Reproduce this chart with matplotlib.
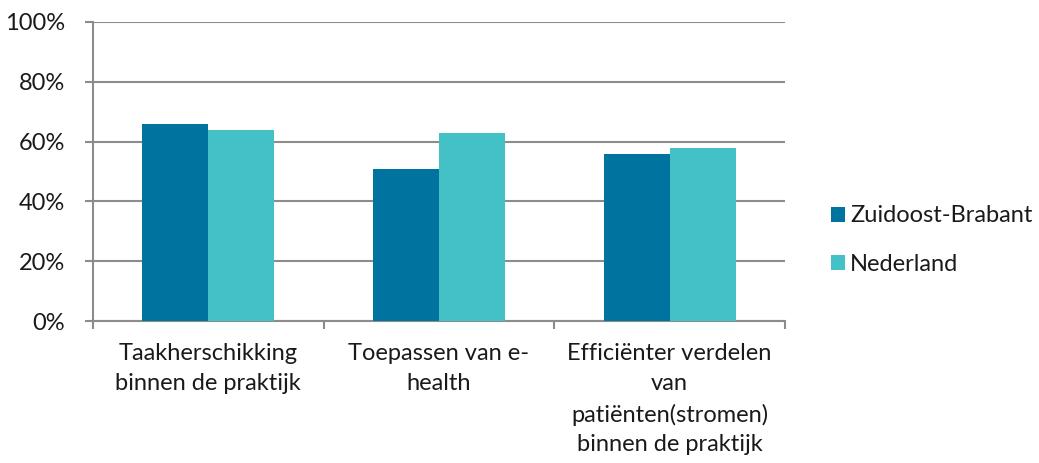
import matplotlib
matplotlib.use("Agg")
import matplotlib.pyplot as plt
import numpy as np
from matplotlib.ticker import PercentFormatter

# Data
categories = [
    "Taakherschikking\nbinnen de praktijk",
    "Toepassen van e-\nhealth",
    "Efficiënter verdelen\nvan\npatiënten(stromen)\nbinnen de praktijk",
]
series_names = ["Zuidoost-Brabant", "Nederland"]
zuidoost = [66, 51, 56]
nederland = [64, 63, 58]
colors = ["#00739F", "#43C1C6"]
y_ticks = [0, 20, 40, 60, 80, 100]

plt.rcParams["font.family"] = ["Lato", "DejaVu Sans"]
grid_color = "#8C8C8C"
text_color = "#1A1A1A"

fig = plt.figure(figsize=(10.39, 4.63), dpi=100)
ax = fig.add_axes([93 / 1039, 1 - 321 / 463, (785 - 93) / 1039, (321 - 22) / 463])

x = np.arange(len(categories))
w = 0.286
ax.bar(x - w / 2, zuidoost, w, color=colors[0], label=series_names[0], zorder=3)
ax.bar(x + w / 2, nederland, w, color=colors[1], label=series_names[1], zorder=3)

ax.set_xlim(-0.5, len(categories) - 0.5)
ax.set_ylim(0, 100)
ax.set_yticks(y_ticks)
ax.yaxis.set_major_formatter(PercentFormatter(decimals=0))
ax.grid(axis="y", color=grid_color, linewidth=1.5, zorder=0)

# category labels centred, tick marks at the boundaries
ax.set_xticks(x)
ax.set_xticklabels(categories, fontsize=17, linespacing=1.52, color=text_color)
ax.tick_params(axis="x", length=0, pad=16)
ax.set_xticks(np.arange(-0.5, len(categories)), minor=True)
ax.tick_params(axis="x", which="minor", length=6, width=1.5, color=grid_color)
ax.tick_params(axis="y", length=6, width=1.5, color=grid_color, labelsize=17,
               labelcolor=text_color, pad=14)

for side in ["top", "right"]:
    ax.spines[side].set_visible(False)
for side in ["left", "bottom"]:
    ax.spines[side].set_color(grid_color)
    ax.spines[side].set_linewidth(1.5)

leg = fig.legend(loc="center left", bbox_to_anchor=(810 / 1039, 1 - 240 / 463),
                 frameon=False, fontsize=17, handlelength=0.6, handleheight=0.6,
                 handletextpad=0.2, labelspacing=1.15, labelcolor=text_color)

fig.savefig("out.png", dpi=100)
